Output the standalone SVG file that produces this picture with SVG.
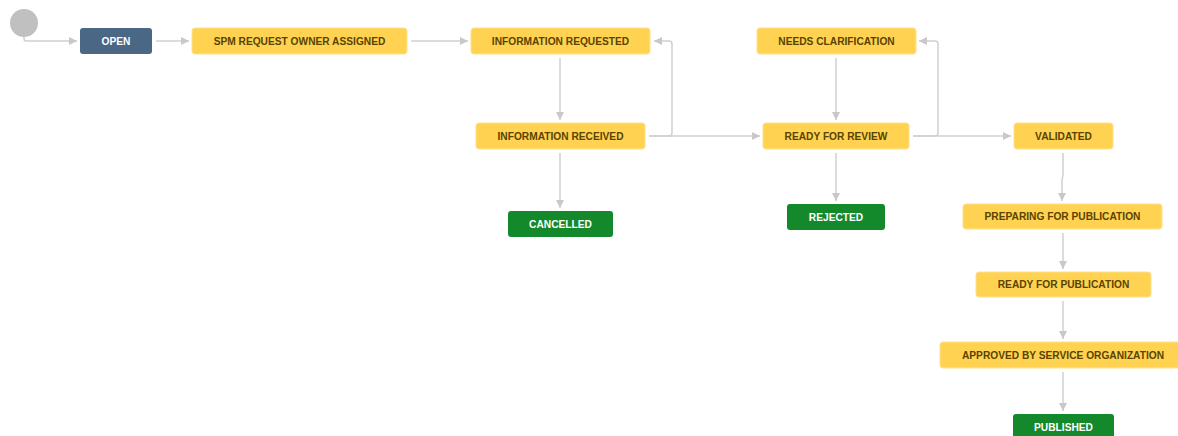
<svg xmlns="http://www.w3.org/2000/svg" width="1178" height="436" viewBox="0 0 1178 436">
<defs>
<marker id="ah" viewBox="0 0 10 10" refX="10" refY="5" markerWidth="8" markerHeight="8" markerUnits="userSpaceOnUse" orient="auto">
<path d="M0,0 L10,5 L0,10 z" fill="#c8c8c8"/>
</marker>
<style>
.c{fill:none;stroke:#d0d0d0;stroke-width:1.5;marker-end:url(#ah)}
.cn{fill:none;stroke:#d0d0d0;stroke-width:1.5}
.y rect{fill:#ffd351;stroke:#ffe08a;stroke-width:1}
.y text{fill:#594300}
.g rect{fill:#14892c}
.g text,.b text{fill:#ffffff}
.b rect{fill:#4a6785}
text{font-family:"Liberation Sans",Arial,sans-serif;font-size:10.2px;font-weight:bold;text-anchor:middle}
</style>
</defs>
<rect width="1178" height="436" fill="#ffffff"/>
<g id="connectors">
<path class="c" d="M24,37 V39 Q24,41 26,41 H77"/>
<path class="c" d="M156,41 H189"/>
<path class="c" d="M411,41 H468"/>
<path class="c" d="M560,58 V120"/>
<path class="c" d="M560,153 V208"/>
<path class="c" d="M649,136 H669 Q672,136 672,133 V44 Q672,41 669,41 H654"/>
<path class="c" d="M649,136 H760"/>
<path class="c" d="M836,58 V120"/>
<path class="c" d="M836,153 V201"/>
<path class="c" d="M913,136 H935 Q938,136 938,133 V44 Q938,41 935,41 H919"/>
<path class="c" d="M913,136 H1011"/>
<path class="c" d="M1063,153 V175 L1062,180 V201"/>
<path class="c" d="M1063,233 V269"/>
<path class="c" d="M1063,301 V339"/>
<path class="c" d="M1063,372 V411"/>
</g>
<circle id="start" cx="24" cy="23" r="14" fill="#c0c0c0"/>
<g id="open" class="b"><rect x="80" y="28" width="72" height="26" rx="3"/><text x="116" y="44.6">OPEN</text></g>
<g id="spm" class="y"><rect x="192" y="28" width="215" height="26" rx="3"/><text x="299.5" y="44.6">SPM REQUEST OWNER ASSIGNED</text></g>
<g id="info-requested" class="y"><rect x="471" y="28" width="179" height="26" rx="3"/><text x="560.5" y="44.6">INFORMATION REQUESTED</text></g>
<g id="info-received" class="y"><rect x="476" y="123" width="169" height="26" rx="3"/><text x="560.5" y="139.6">INFORMATION RECEIVED</text></g>
<g id="cancelled" class="g"><rect x="508" y="211" width="105" height="26" rx="3"/><text x="560.5" y="227.6">CANCELLED</text></g>
<g id="needs-clarification" class="y"><rect x="757" y="28" width="159" height="26" rx="3"/><text x="836.5" y="44.6">NEEDS CLARIFICATION</text></g>
<g id="ready-for-review" class="y"><rect x="763" y="123" width="146" height="26" rx="3"/><text x="836" y="139.6">READY FOR REVIEW</text></g>
<g id="rejected" class="g"><rect x="787" y="204" width="98" height="26" rx="3"/><text x="836" y="220.6">REJECTED</text></g>
<g id="validated" class="y"><rect x="1014" y="123" width="99" height="26" rx="3"/><text x="1063.5" y="139.6">VALIDATED</text></g>
<g id="preparing" class="y"><rect x="963" y="204" width="199" height="25" rx="3"/><text x="1062.5" y="220.2">PREPARING FOR PUBLICATION</text></g>
<g id="ready-for-publication" class="y"><rect x="976" y="272" width="175" height="25" rx="3"/><text x="1063.5" y="288.2">READY FOR PUBLICATION</text></g>
<g id="approved" class="y"><rect x="940" y="342" width="246" height="26" rx="3"/><text x="1063" y="358.6">APPROVED BY SERVICE ORGANIZATION</text></g>
<g id="published" class="g"><rect x="1013" y="414" width="101" height="26" rx="3"/><text x="1063.5" y="430.6">PUBLISHED</text></g>
</svg>
